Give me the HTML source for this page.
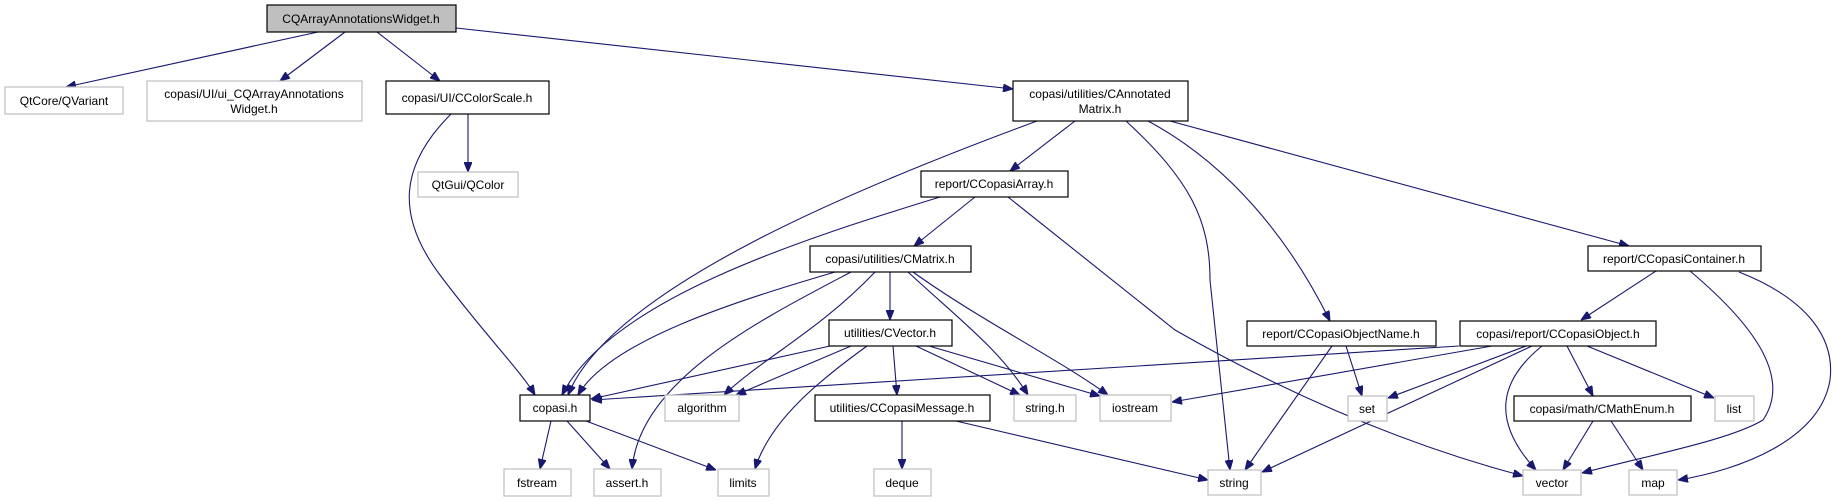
<!DOCTYPE html>
<html><head><meta charset="utf-8"><style>
html,body{margin:0;padding:0;background:#fff;}
svg{display:block;}
text{font-family:"Liberation Sans",sans-serif;font-size:12px;fill:#000;text-anchor:middle;}
.b{fill:#fff;stroke:#000;stroke-width:1.2;}
.g{fill:#fff;stroke:#bfbfbf;stroke-width:1.2;}
.e{fill:none;stroke:#191970;stroke-width:1.1;marker-end:url(#a);}
</style></head><body>
<svg width="1835" height="501" viewBox="0 0 1835 501" xmlns="http://www.w3.org/2000/svg">
<defs><marker id="a" viewBox="0 0 10 8" refX="10" refY="4" markerWidth="10" markerHeight="8" markerUnits="userSpaceOnUse" orient="auto"><path d="M0,0 L10,4 L0,8 z" fill="#191970" stroke="#191970"/></marker></defs>

<!-- edges -->
<path class="e" d="M318,32 L66,87"/>
<path class="e" d="M345,32 L280,81"/>
<path class="e" d="M377,32 L440,81"/>
<path class="e" d="M456,28 L1013,89"/>
<path class="e" d="M468,114 L468,172"/>
<path class="e" d="M451,114 C400,165 395,215 440,275 S520,370 535,395"/>
<path class="e" d="M1037,121 C850,190 610,290 568,395"/>
<path class="e" d="M1075,121 L1010,171"/>
<path class="e" d="M1126,121 C1190,180 1210,220 1210,280 L1230,470"/>
<path class="e" d="M1148,121 C1230,165 1290,240 1330,321"/>
<path class="e" d="M1170,121 L1629,246"/>
<path class="e" d="M940,197 C800,240 610,300 562,395"/>
<path class="e" d="M975,197 L914,246"/>
<path class="e" d="M1008,197 L1175,330 Q1350,430 1523,476"/>
<path class="e" d="M835,272 C740,300 610,340 578,395"/>
<path class="e" d="M851,272 C760,320 640,380 632,469"/>
<path class="e" d="M875,272 C820,330 760,360 724,395"/>
<path class="e" d="M890,272 L890,320"/>
<path class="e" d="M908,272 C960,320 1000,350 1028,395"/>
<path class="e" d="M913,272 C980,320 1060,360 1108,395"/>
<path class="e" d="M830,346 L591,399"/>
<path class="e" d="M851,346 L736,395"/>
<path class="e" d="M867,346 C820,380 770,420 755,469"/>
<path class="e" d="M893,346 L897,395"/>
<path class="e" d="M916,346 L1020,395"/>
<path class="e" d="M929,346 L1100,396"/>
<path class="e" d="M551,421 L540,469"/>
<path class="e" d="M567,421 L610,469"/>
<path class="e" d="M586,421 L716,470"/>
<path class="e" d="M902,421 L902,469"/>
<path class="e" d="M956,421 L1208,480"/>
<path class="e" d="M1459,346 L592,400"/>
<path class="e" d="M1492,346 L1172,402"/>
<path class="e" d="M1526,346 L1388,398"/>
<path class="e" d="M1532,346 L1262,472"/>
<path class="e" d="M1542,346 C1500,380 1490,420 1536,470"/>
<path class="e" d="M1567,346 L1593,396"/>
<path class="e" d="M1587,346 L1714,398"/>
<path class="e" d="M1593,421 L1563,470"/>
<path class="e" d="M1611,421 L1643,470"/>
<path class="e" d="M1346,346 L1362,396"/>
<path class="e" d="M1332,346 L1245,470"/>
<path class="e" d="M1656,271 L1581,320"/>
<path class="e" d="M1690,271 C1760,330 1790,380 1763,420 C1730,440 1650,455 1582,473"/>
<path class="e" d="M1739,272 C1810,300 1835,340 1830,380 C1820,440 1740,470 1678,480"/>

<!-- nodes -->
<rect x="267" y="5" width="189" height="27" fill="#bfbfbf" stroke="#000" stroke-width="1.2"/>
<text x="361" y="23">CQArrayAnnotationsWidget.h</text>

<rect class="g" x="5" y="87" width="118" height="27"/><text x="64" y="105">QtCore/QVariant</text>
<rect class="g" x="147" y="81" width="215" height="40"/><text x="254" y="98">copasi/UI/ui_CQArrayAnnotations</text><text x="254" y="113">Widget.h</text>
<rect class="b" x="386" y="81" width="163" height="33"/><text x="467" y="102">copasi/UI/CColorScale.h</text>
<rect class="g" x="418" y="172" width="100" height="25"/><text x="468" y="189">QtGui/QColor</text>

<rect class="b" x="1013" y="81" width="175" height="40"/><text x="1100" y="98">copasi/utilities/CAnnotated</text><text x="1100" y="113">Matrix.h</text>
<rect class="b" x="921" y="171" width="147" height="26"/><text x="994" y="188">report/CCopasiArray.h</text>
<rect class="b" x="810" y="246" width="161" height="26"/><text x="890" y="263">copasi/utilities/CMatrix.h</text>
<rect class="b" x="829" y="320" width="123" height="26"/><text x="890" y="337">utilities/CVector.h</text>
<rect class="b" x="520" y="395" width="70" height="26"/><text x="555" y="412">copasi.h</text>
<rect class="g" x="665" y="395" width="74" height="26"/><text x="702" y="412">algorithm</text>
<rect class="b" x="815" y="395" width="175" height="26"/><text x="902" y="412">utilities/CCopasiMessage.h</text>
<rect class="g" x="1014" y="395" width="62" height="26"/><text x="1045" y="412">string.h</text>
<rect class="g" x="1100" y="395" width="71" height="26"/><text x="1135" y="412">iostream</text>
<rect class="g" x="504" y="469" width="67" height="27"/><text x="537" y="487">fstream</text>
<rect class="g" x="594" y="469" width="67" height="27"/><text x="627" y="487">assert.h</text>
<rect class="g" x="718" y="469" width="51" height="27"/><text x="743" y="487">limits</text>
<rect class="g" x="874" y="469" width="57" height="27"/><text x="902" y="487">deque</text>

<rect class="b" x="1588" y="246" width="173" height="25"/><text x="1674" y="263">report/CCopasiContainer.h</text>
<rect class="b" x="1247" y="321" width="189" height="25"/><text x="1341" y="338">report/CCopasiObjectName.h</text>
<rect class="b" x="1460" y="321" width="196" height="25"/><text x="1558" y="338">copasi/report/CCopasiObject.h</text>
<rect class="g" x="1348" y="396" width="39" height="25"/><text x="1367" y="413">set</text>
<rect class="b" x="1514" y="396" width="177" height="25"/><text x="1602" y="413">copasi/math/CMathEnum.h</text>
<rect class="g" x="1715" y="396" width="39" height="25"/><text x="1734" y="413">list</text>
<rect class="g" x="1208" y="470" width="53" height="25"/><text x="1234" y="487">string</text>
<rect class="g" x="1523" y="470" width="58" height="25"/><text x="1552" y="487">vector</text>
<rect class="g" x="1629" y="470" width="48" height="25"/><text x="1653" y="487">map</text>
</svg>
</body></html>
